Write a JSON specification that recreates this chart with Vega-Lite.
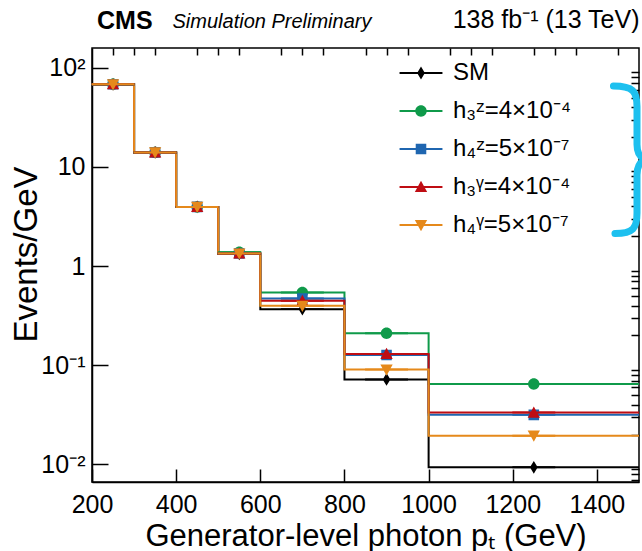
{
  "$schema": "https://vega.github.io/schema/vega-lite/v6.json",
  "width": 547,
  "height": 434,
  "autosize": {"type": "none"},
  "padding": {"left": 92, "top": 48, "right": 3, "bottom": 69},
  "background": "white",
  "title": {
    "text": "CMS",
    "anchor": "start", "frame": "group", "dx": 5, "offset": -27,
    "font": "Liberation Sans", "fontSize": 25, "fontWeight": "bold", "color": "black"
  },
  "datasets": {
    "hist": [
      {"series": "SM", "lo": 200, "hi": 300, "value": 68},
      {"series": "SM", "lo": 300, "hi": 400, "value": 14.0},
      {"series": "SM", "lo": 400, "hi": 500, "value": 3.95},
      {"series": "SM", "lo": 500, "hi": 600, "value": 1.33},
      {"series": "SM", "lo": 600, "hi": 800, "value": 0.368},
      {"series": "SM", "lo": 800, "hi": 1000, "value": 0.0719},
      {"series": "SM", "lo": 1000, "hi": 1500, "value": 0.00935},
      {"series": "h₃ᶻ=4×10⁻⁴", "lo": 200, "hi": 300, "value": 68},
      {"series": "h₃ᶻ=4×10⁻⁴", "lo": 300, "hi": 400, "value": 14.0},
      {"series": "h₃ᶻ=4×10⁻⁴", "lo": 400, "hi": 500, "value": 3.95},
      {"series": "h₃ᶻ=4×10⁻⁴", "lo": 500, "hi": 600, "value": 1.38},
      {"series": "h₃ᶻ=4×10⁻⁴", "lo": 600, "hi": 800, "value": 0.541},
      {"series": "h₃ᶻ=4×10⁻⁴", "lo": 800, "hi": 1000, "value": 0.210},
      {"series": "h₃ᶻ=4×10⁻⁴", "lo": 1000, "hi": 1500, "value": 0.0646},
      {"series": "h₄ᶻ=5×10⁻⁷", "lo": 200, "hi": 300, "value": 68},
      {"series": "h₄ᶻ=5×10⁻⁷", "lo": 300, "hi": 400, "value": 14.0},
      {"series": "h₄ᶻ=5×10⁻⁷", "lo": 400, "hi": 500, "value": 3.95},
      {"series": "h₄ᶻ=5×10⁻⁷", "lo": 500, "hi": 600, "value": 1.34},
      {"series": "h₄ᶻ=5×10⁻⁷", "lo": 600, "hi": 800, "value": 0.471},
      {"series": "h₄ᶻ=5×10⁻⁷", "lo": 800, "hi": 1000, "value": 0.127},
      {"series": "h₄ᶻ=5×10⁻⁷", "lo": 1000, "hi": 1500, "value": 0.0316},
      {"series": "h₃ᵞ=4×10⁻⁴", "lo": 200, "hi": 300, "value": 68},
      {"series": "h₃ᵞ=4×10⁻⁴", "lo": 300, "hi": 400, "value": 14.0},
      {"series": "h₃ᵞ=4×10⁻⁴", "lo": 400, "hi": 500, "value": 3.95},
      {"series": "h₃ᵞ=4×10⁻⁴", "lo": 500, "hi": 600, "value": 1.34},
      {"series": "h₃ᵞ=4×10⁻⁴", "lo": 600, "hi": 800, "value": 0.446},
      {"series": "h₃ᵞ=4×10⁻⁴", "lo": 800, "hi": 1000, "value": 0.130},
      {"series": "h₃ᵞ=4×10⁻⁴", "lo": 1000, "hi": 1500, "value": 0.0333},
      {"series": "h₄ᵞ=5×10⁻⁷", "lo": 200, "hi": 300, "value": 68},
      {"series": "h₄ᵞ=5×10⁻⁷", "lo": 300, "hi": 400, "value": 14.0},
      {"series": "h₄ᵞ=5×10⁻⁷", "lo": 400, "hi": 500, "value": 3.95},
      {"series": "h₄ᵞ=5×10⁻⁷", "lo": 500, "hi": 600, "value": 1.34},
      {"series": "h₄ᵞ=5×10⁻⁷", "lo": 600, "hi": 800, "value": 0.397},
      {"series": "h₄ᵞ=5×10⁻⁷", "lo": 800, "hi": 1000, "value": 0.0906},
      {"series": "h₄ᵞ=5×10⁻⁷", "lo": 1000, "hi": 1500, "value": 0.0195}
    ]
  },
  "data": {"name": "hist"},
  "resolve": {"axis": {"x": "independent", "y": "independent"}},
  "layer": [
    {
      "transform": [{"fold": ["lo", "hi"], "as": ["key", "edge"]}],
      "mark": {"type": "line", "strokeWidth": 2, "clip": true},
      "encoding": {
        "x": {
          "field": "edge", "type": "quantitative",
          "scale": {"domain": [200, 1500], "nice": false, "zero": false},
          "axis": {
            "values": [200, 400, 600, 800, 1000, 1200, 1400], "format": "d",
            "tickSize": -13, "labelPadding": 23, "labelFontSize": 25,
            "labelFlush": false, "labelOverlap": false,
            "title": "Generator-level photon pₜ (GeV)", "titleFontSize": 31, "titlePadding": 4
          }
        },
        "y": {
          "field": "value", "type": "quantitative",
          "scale": {"type": "log", "domain": [0.00665, 158], "nice": false},
          "axis": {
            "values": [0.01, 0.1, 1, 10, 100],
            "tickSize": -16, "labelPadding": 23, "labelFontSize": 25,
            "labelFlush": false, "labelOverlap": false,
            "labelExpr": "datum.value > 50 ? '10²' : datum.value > 5 ? '10' : datum.value > 0.5 ? '1' : datum.value > 0.05 ? '10⁻¹' : '10⁻²'",
            "title": "Events/GeV", "titleFontSize": 33, "titlePadding": -3, "titleY": 206
          }
        },
        "color": {
          "field": "series", "type": "nominal",
          "scale": {
            "domain": ["SM", "h₃ᶻ=4×10⁻⁴", "h₄ᶻ=5×10⁻⁷", "h₃ᵞ=4×10⁻⁴", "h₄ᵞ=5×10⁻⁷"],
            "range": ["#000000", "#0f9a4a", "#1f66b0", "#bf0d13", "#e5891b"]
          }
        },
        "order": [
          {"field": "edge", "type": "quantitative"},
          {"field": "key", "type": "nominal", "sort": "descending"}
        ]
      }
    },
    {
      "transform": [{"calculate": "(datum.lo + datum.hi) / 2", "as": "center"}],
      "mark": {"type": "point", "filled": true, "opacity": 1, "size": 484},
      "encoding": {
        "x": {
          "field": "center", "type": "quantitative",
          "axis": {
            "values": [250, 300, 350, 450, 500, 550, 650, 700, 750, 850, 900, 950, 1050, 1100, 1150, 1250, 1300, 1350, 1450],
            "tickSize": -7, "labels": false, "domain": false, "title": null
          }
        },
        "y": {
          "field": "value", "type": "quantitative",
          "axis": {
            "values": [0.007, 0.008, 0.009, 0.02, 0.03, 0.04, 0.05, 0.06, 0.07, 0.08, 0.09, 0.2, 0.3, 0.4, 0.5, 0.6, 0.7, 0.8, 0.9, 2, 3, 4, 5, 6, 7, 8, 9, 20, 30, 40, 50, 60, 70, 80, 90],
            "tickSize": -8, "labels": false, "domain": false, "title": null
          }
        },
        "color": {
          "field": "series", "type": "nominal",
          "legend": {"orient": "none", "legendX": 317, "legendY": 13, "title": null, "labelFontSize": 24, "labelFont": "Liberation Sans", "labelColor": "black", "symbolSize": 484, "symbolStrokeWidth": 0, "symbolOpacity": 1, "rowPadding": 14, "labelOffset": 20}
        },
        "shape": {
          "field": "series", "type": "nominal",
          "scale": {
            "domain": ["SM", "h₃ᶻ=4×10⁻⁴", "h₄ᶻ=5×10⁻⁷", "h₃ᵞ=4×10⁻⁴", "h₄ᵞ=5×10⁻⁷"],
            "range": [
              "M-1.95,-0.09H1.95V0.09H-1.95ZM0,-0.58L0.35,0L0,0.58L-0.35,0Z",
              "M-1.95,-0.09H1.95V0.09H-1.95ZM0.52,0A0.52,0.52,0,1,1,-0.52,0A0.52,0.52,0,1,1,0.52,0Z",
              "M-1.95,-0.09H1.95V0.09H-1.95ZM-0.48,-0.48H0.48V0.48H-0.48Z",
              "M-1.95,-0.09H1.95V0.09H-1.95ZM0,-0.56L0.56,0.46L-0.56,0.46Z",
              "M-1.95,-0.09H1.95V0.09H-1.95ZM0,0.56L-0.56,-0.46L0.56,-0.46Z"
            ]
          },
          "legend": {"orient": "none", "legendX": 317, "legendY": 13, "title": null, "labelFontSize": 24, "labelFont": "Liberation Sans", "labelColor": "black", "symbolSize": 484, "symbolStrokeWidth": 0, "symbolOpacity": 1, "rowPadding": 14, "labelOffset": 20}
        }
      }
    },
    {
      "data": {"values": [{"part": "brace upper half"}]},
      "mark": {
        "type": "point",
        "shape": "M-0.22,-0.97C0.04,-0.97,0.09,-0.9,0.09,-0.7L0.09,-0.2C0.09,-0.05,0.15,0,0.28,0",
        "size": 23104, "filled": false, "stroke": "#1dc0ef", "strokeWidth": 7,
        "opacity": 1, "strokeCap": "round"
      },
      "encoding": {
        "x": {
          "datum": 1479, "type": "quantitative",
          "axis": {
            "orient": "top", "domain": false, "ticks": false, "labels": false,
            "title": "138 fb⁻¹ (13 TeV)", "titleAnchor": "end", "titleFontSize": 25,
            "titleBaseline": "alphabetic", "titlePadding": 21
          }
        },
        "y": {"datum": 11.8, "type": "quantitative", "axis": null}
      }
    },
    {
      "data": {"values": [{"part": "brace lower half"}]},
      "mark": {
        "type": "point",
        "shape": "M0.28,0C0.15,0,0.09,0.05,0.09,0.2L0.09,0.7C0.09,0.9,0.04,0.97,-0.2,0.97",
        "size": 23104, "filled": false, "stroke": "#1dc0ef", "strokeWidth": 7,
        "opacity": 1, "strokeCap": "round"
      },
      "encoding": {
        "x": {
          "datum": 1479, "type": "quantitative",
          "axis": {
            "orient": "top", "domain": false, "ticks": false, "labels": false,
            "title": "Simulation Preliminary", "titleX": 80, "titleAlign": "left",
            "titleFontSize": 20, "titleFontStyle": "italic",
            "titleBaseline": "alphabetic", "titlePadding": 21
          }
        },
        "y": {"datum": 11.8, "type": "quantitative", "axis": null}
      }
    }
  ],
  "config": {
    "view": {"stroke": "black", "strokeWidth": 1.5},
    "axis": {
      "grid": false, "domainColor": "black", "domainWidth": 1.5,
      "tickColor": "black", "tickWidth": 1.5,
      "labelColor": "black", "labelFont": "Liberation Sans",
      "titleColor": "black", "titleFont": "Liberation Sans", "titleFontWeight": "normal"
    },
    "legend": {"labelFont": "Liberation Sans"}
  }
}
